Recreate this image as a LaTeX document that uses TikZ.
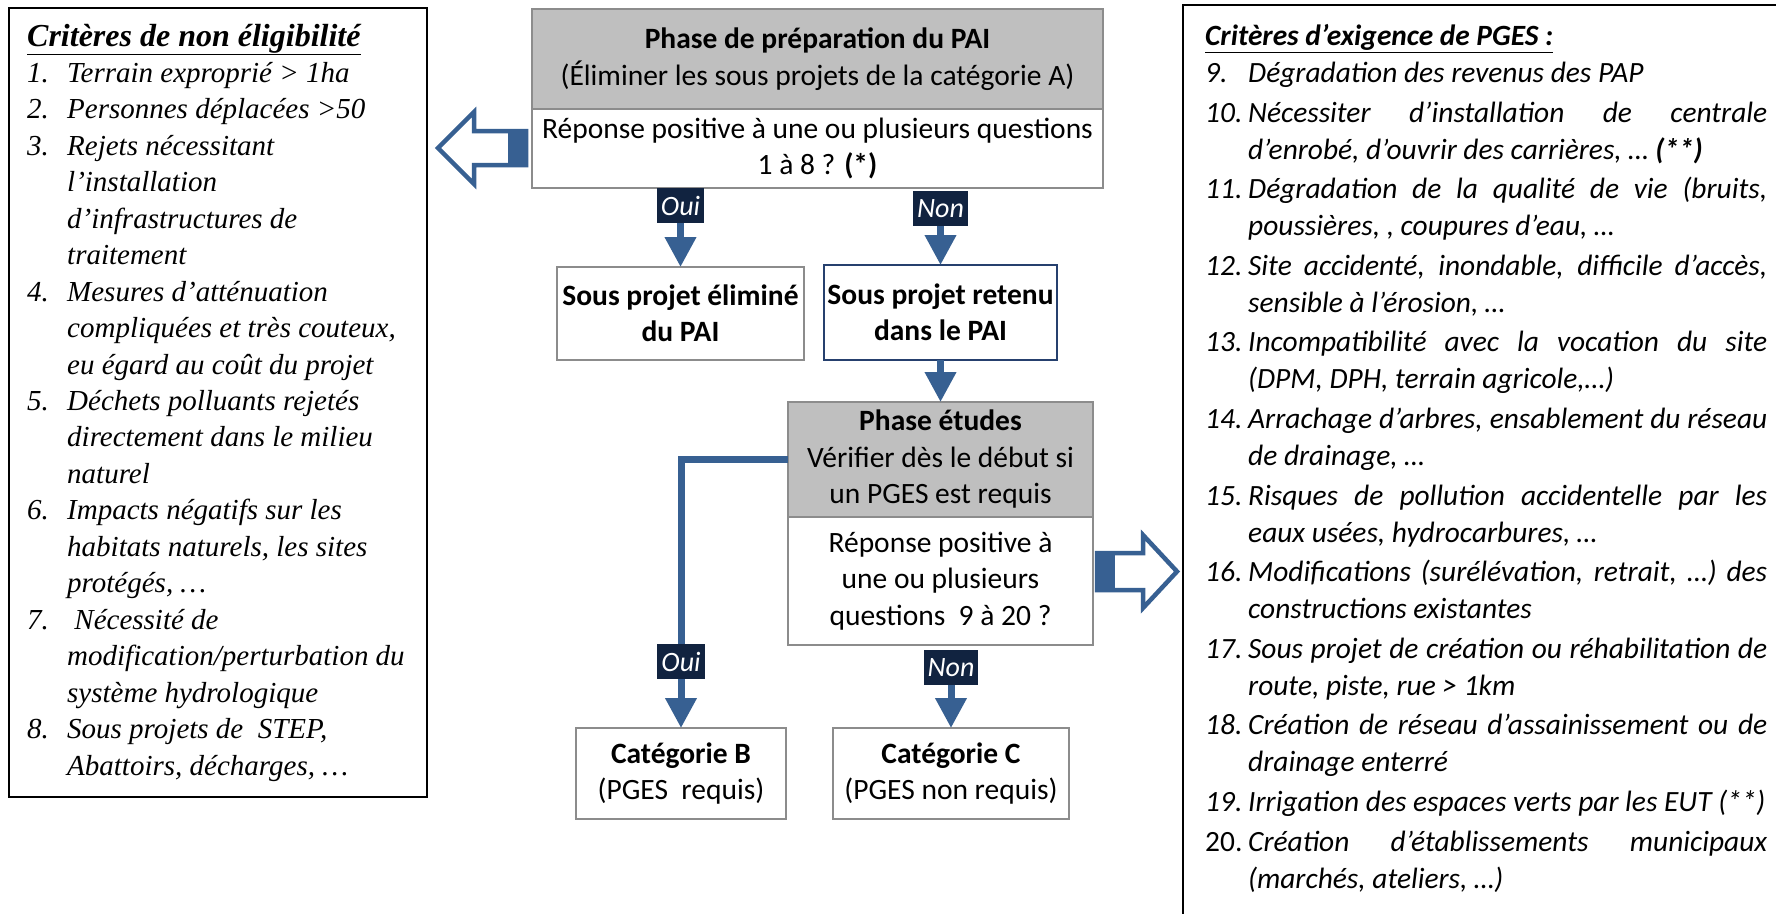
\documentclass[tikz,border=0pt]{standalone}
\usepackage{fontspec}
\setmainfont{Carlito}
\newfontfamily\timesf{Liberation Serif}
\usetikzlibrary{positioning,arrows.meta}

\definecolor{flowblue}{RGB}{55,96,146}
\definecolor{lblnavy}{RGB}{17,35,64}
\definecolor{boxgray}{RGB}{191,191,191}
\definecolor{edgegray}{RGB}{140,140,140}
\definecolor{retblue}{RGB}{38,64,110}

\newcommand{\itm}[1]{\makebox[40pt][l]{#1}}
\newcommand{\cnt}{\hspace*{40pt}}
\newcommand{\ritm}[1]{\makebox[43pt][l]{#1}}
\newcommand{\rcnt}{\hspace*{43pt}}
\newcommand{\jst}[1]{\makebox[519pt][s]{#1}}

\tikzset{
  box/.style={draw=edgegray,line width=1.5pt,align=center,inner sep=0pt,outer sep=0pt,
    font=\fontsize{29.5}{36.5}\selectfont},
  graybox/.style={box,fill=boxgray},
  lbl/.style={fill=lblnavy,text=white,inner xsep=4pt,inner ysep=0pt,minimum height=35pt,
    font=\fontsize{28}{30}\selectfont\itshape},
  flow/.style={draw=flowblue,line width=7pt,-{Triangle[width=30pt,length=30pt]}},
  listbox/.style={draw=black,line width=2pt,inner sep=0pt,outer sep=0pt},
  hollow/.style={draw=flowblue,fill=white,line width=4.5pt,line join=miter}
}

\begin{document}
\begin{tikzpicture}[x=1pt,y=-1pt]
\clip (0,0) rectangle (1776,913);
\fill[white] (0,0) rectangle (1776,913);

% listes des criteres
\node[listbox,anchor=north west,minimum width=418pt,minimum height=789pt] (crit) at (9,8) {};
\node[anchor=base west,align=left,inner sep=0pt,font=\timesf\itshape\fontsize{29}{36.45}\selectfont] (crittxt) at (27,775) {%
{\fontsize{32}{36.45}\selectfont\textbf{\underline{Critères de non éligibilité}}}\\
\itm{1.}Terrain exproprié > 1ha\\
\itm{2.}Personnes déplacées >50\\
\itm{3.}Rejets nécessitant\\
\cnt l’installation\\
\cnt d’infrastructures de\\
\cnt traitement\\
\itm{4.}Mesures d’atténuation\\
\cnt compliquées et très couteux,\\
\cnt eu égard au coût du projet\\
\itm{5.}Déchets polluants rejetés\\
\cnt directement dans le milieu\\
\cnt naturel\\
\itm{6.}Impacts négatifs sur les\\
\cnt habitats naturels, les sites\\
\cnt protégés, …\\
\itm{7.}\ Nécessité de\\
\cnt modification/perturbation du\\
\cnt système hydrologique\\
\itm{8.}Sous projets de\ \ STEP,\\
\cnt Abattoirs, décharges, …};

\node[listbox,anchor=north west,minimum width=620pt,minimum height=940pt] (pges) at (1183,5) {};
\node[anchor=base west,align=left,inner sep=0pt,font=\itshape\fontsize{29.4}{37}\selectfont] (pgestxt) at (1205,888) {%
\textbf{\underline{Critères d’exigence de PGES :}}\\
\ritm{9.}Dégradation des revenus des PAP\\[2.6pt]
\ritm{10.}\jst{Nécessiter d'installation de centrale}\\
\rcnt d’enrobé, d'ouvrir des carrières, … \textbf{(**)}\\[2.6pt]
\ritm{11.}\jst{Dégradation de la qualité de vie (bruits,}\\
\rcnt poussières, , coupures d’eau, …\\[2.6pt]
\ritm{12.}\jst{Site accidenté, inondable, difficile d’accès,}\\
\rcnt sensible à l’érosion, …\\[2.6pt]
\ritm{13.}\jst{Incompatibilité avec la vocation du site}\\
\rcnt (DPM, DPH, terrain agricole,…)\\[2.6pt]
\ritm{14.}\jst{Arrachage d’arbres, ensablement du réseau}\\
\rcnt de drainage, …\\[2.6pt]
\ritm{15.}\jst{Risques de pollution accidentelle par les}\\
\rcnt eaux usées, hydrocarbures, …\\[2.6pt]
\ritm{16.}\jst{Modifications (surélévation, retrait, …) des}\\
\rcnt constructions existantes\\[2.6pt]
\ritm{17.}\jst{Sous projet de création ou réhabilitation de}\\
\rcnt route, piste, rue > 1km\\[2.6pt]
\ritm{18.}\jst{Création de réseau d’assainissement ou de}\\
\rcnt drainage enterré\\[2.6pt]
\ritm{19.}Irrigation des espaces verts par les EUT (**)\\[2.6pt]
\ritm{\upshape 20.}\jst{Création d’établissements municipaux}\\
\rcnt (marchés, ateliers, …)};

% organigramme
\node[graybox,minimum width=571pt,minimum height=100pt] (prep) at (817.5,59) {\textbf{Phase de préparation du PAI}\\(Éliminer les sous projets de la catégorie A)};
\node[box,fill=white,minimum width=571pt,minimum height=79pt,below=0pt of prep] (prepq) {Réponse positive à une ou plusieurs questions\\1 à 8 ? \textbf{(*)}};
\node[box,minimum width=247pt,minimum height=93pt] (elim) at (680.5,313.5) {\textbf{Sous projet éliminé}\\\textbf{du PAI}};
\node[box,draw=retblue,minimum width=233pt,minimum height=95pt] (ret) at (940.5,312.5) {\textbf{Sous projet retenu}\\\textbf{dans le PAI}};
\node[graybox,minimum width=305pt,minimum height=115pt] (etud) at (940.5,459.5) {\textbf{Phase études}\\Vérifier dès le début si\\un PGES est requis};
\node[box,fill=white,minimum width=305pt,minimum height=128pt,below=0pt of etud] (etudq) {Réponse positive à\\une ou plusieurs\\questions\ \ 9 à 20 ?};
\node[box,minimum width=210pt,minimum height=91pt] (catb) at (681,773.5) {\textbf{Catégorie B}\\(PGES\ \ requis)};
\node[box,minimum width=236pt,minimum height=91pt] (catc) at (951,773.5) {\textbf{Catégorie C}\\(PGES non requis)};

\node[lbl,anchor=north] (oui1) at (prepq.south -| elim.north) {Oui};
\node[lbl,anchor=north,yshift=-3pt] (non1) at (prepq.south -| ret.north) {Non};
\node[lbl,anchor=north,yshift=-5pt] (non2) at (etudq.south -| catc.north) {Non};

\draw[flow] (oui1.south) -- (elim.north);
\draw[flow] (non1.south) -- (ret.north);
\draw[flow] (ret) -- (etud);
\draw[flow] (non2.south) -- (catc.north);
\draw[flow] (etud.west) -| node[lbl,pos=0.877] (oui2) {Oui} (catb.north);

% fleches creuses
\filldraw[hollow] (526,131) -- ++(-52,0) -- ++(0,-19) -- ++(-36,36) -- ++(36,36) -- ++(0,-19) -- ++(52,0) -- cycle;
\fill[flowblue] (508,131) rectangle (526,165);
\filldraw[hollow] (1097,553) -- ++(46,0) -- ++(0,-18) -- ++(34,36.5) -- ++(-34,36.5) -- ++(0,-18) -- ++(-46,0) -- cycle;
\fill[flowblue] (1097,553) rectangle (1115,590);
\end{tikzpicture}
\end{document}
